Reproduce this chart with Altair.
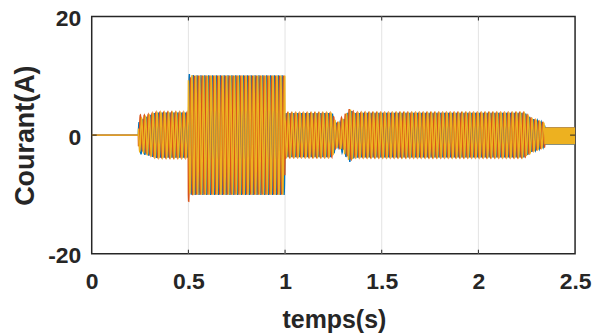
import numpy as np
import pandas as pd
import altair as alt

alt.data_transformers.disable_max_rows()

# ---- axes / ticks ----
x_ticks = [0, 0.5, 1, 1.5, 2, 2.5]
y_ticks = [-20, 0, 20]
grid_x = [0.5, 1, 1.5, 2]
y_zero = [0]

# ---- three phase currents ----
phases = ["ia", "ib", "ic"]
phase_colors = ["#0072BD", "#D95319", "#EDB120"]
phase_shift_deg = [0, -120, 120]

# envelope of the peak current (time s, peak A, band centre A)
env_t = [0.0, 0.241, 0.242, 0.33, 0.499, 0.500, 0.999, 1.000, 1.244, 1.265, 1.29, 1.335, 1.36, 2.24, 2.275, 2.343, 2.344, 2.5]
env_amp = [0.0, 0.0, 2.7, 3.8, 3.8, 10.1, 10.1, 3.7, 3.7, 2.0, 2.3, 4.4, 3.75, 3.75, 2.8, 2.0, 1.43, 1.43]
env_ctr = [0.0, 0.0, 0.0, 0.0, 0.0, 0.0, 0.0, 0.0, 0.0, 0.0, 0.0, 0.0, 0.0, 0.0, 0.0, 0.0, -0.13, -0.13]

# switching frequency of each interval (Hz)
freq_t = [0.0, 2.344]
freq_hz = [50.0, 400.0]

# decaying DC offsets after each switching event (A)
event_t = [0.242, 0.500, 1.290]
event_tau = [0.03, 0.008, 0.03]
dc_offsets = {
    "ia": [-0.6, 0.4, -0.5],
    "ib": [0.8, -1.4, 0.6],
    "ic": [0.0, 0.5, 0.0],
}

t = np.concatenate([np.arange(0.0, freq_t[1], 1 / 1000.0),
                    np.arange(freq_t[1], 2.5 + 1e-9, 1 / 4000.0)])
phase = np.where(t < freq_t[1],
                 2 * np.pi * freq_hz[0] * t,
                 2 * np.pi * (freq_hz[0] * freq_t[1] + freq_hz[1] * (t - freq_t[1])))
amp = np.interp(t, env_t, env_amp)
ctr = np.interp(t, env_t, env_ctr)

frames = []
for name, sh in zip(phases, phase_shift_deg):
    i = amp * np.sin(phase + np.deg2rad(sh)) + ctr
    for et, tau, a in zip(event_t, event_tau, dc_offsets[name]):
        i = i + np.where(t >= et, a * np.exp(-(t - et) / tau), 0.0)
    frames.append(pd.DataFrame({"t": np.round(t, 5), "i": np.round(i, 3), "phase": name}))
df = pd.concat(frames, ignore_index=True)

FONT = "Liberation Sans"
TXT = "#262626"
xs = alt.Scale(domain=[0, 2.5], nice=False, zero=False)
ys = alt.Scale(domain=[-20, 20], nice=False, zero=False)

x_axis = alt.Axis(values=x_ticks, format="~g", grid=False, domain=False, ticks=False, tickSize=0,
                  labelPadding=17, labelFontSize=23, labelFont=FONT, labelFontWeight="bold",
                  labelColor=TXT, labelFlush=False, labelOverlap=False,
                  title="temps(s)", titleFont=FONT, titleFontSize=25, titleFontWeight="bold",
                  titleColor=TXT, titleX=243, titleY=74, titleBaseline="alphabetic", zindex=1)
y_axis = alt.Axis(values=y_ticks, labelExpr="'' + datum.value", grid=False, domain=False,
                  ticks=False, tickSize=0, labelOffset=2,
                  labelPadding=11, labelFontSize=23, labelFont=FONT, labelFontWeight="bold",
                  labelColor=TXT, labelFlush=False, labelOverlap=False,
                  title="Courant(A)", titleFont=FONT, titleFontSize=27, titleFontWeight="bold",
                  titleColor=TXT, titleX=-52, titleY=119, titleAngle=270, titleBaseline="bottom", zindex=1)


def X(field):
    return alt.X(field, scale=xs, axis=x_axis, title="temps(s)")


def Y(field):
    return alt.Y(field, scale=ys, axis=y_axis, title="Courant(A)")


grid = alt.Chart(pd.DataFrame({"g": grid_x})).mark_rule(color="#e3e3e3", strokeWidth=1).encode(
    x=X("g:Q"))

layers = [grid]
for name, col in zip(phases, phase_colors):
    layers.append(
        alt.Chart(df).transform_filter(alt.datum.phase == name)
        .mark_line(color=col, strokeWidth=1.4, clip=True)
        .encode(x=X("t:Q"), y=Y("i:Q"))
    )

tick_df = pd.DataFrame({"g": grid_x})
ticks_bottom = alt.Chart(tick_df).mark_rule(color=TXT, strokeWidth=1).encode(
    x=X("g:Q"), y=alt.value(238), y2=alt.value(234))
ticks_top = alt.Chart(tick_df).mark_rule(color=TXT, strokeWidth=1).encode(
    x=X("g:Q"), y=alt.value(0), y2=alt.value(4))
zdf = pd.DataFrame({"z": y_zero})
tick_left = alt.Chart(zdf).mark_rule(color=TXT, strokeWidth=1).encode(
    y=Y("z:Q"), x=alt.value(0), x2=alt.value(5))
tick_right = alt.Chart(zdf).mark_rule(color=TXT, strokeWidth=1).encode(
    y=Y("z:Q"), x=alt.value(485), x2=alt.value(480))
layers += [ticks_bottom, ticks_top, tick_left, tick_right]

chart = alt.layer(*layers).properties(
    width=485, height=238,
    autosize=alt.AutoSizeParams(type="none"),
    padding={"left": 84, "top": 8, "right": 20, "bottom": 80},
    background="white",
).configure_view(stroke=TXT, strokeWidth=1.5)

chart.save("out.html", embed_options={"renderer": "svg", "actions": False})
